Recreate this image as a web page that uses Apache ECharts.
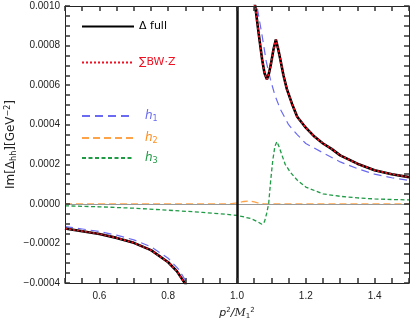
<!DOCTYPE html>
<html>
<head>
<meta charset="utf-8">
<script src="https://cdn.jsdelivr.net/npm/echarts@6/dist/echarts.min.js"></script>
<style>
  html, body { margin: 0; padding: 0; background: #fff; }
  #chart { width: 411px; height: 322px; }
</style>
</head>
<body>
<div id="chart"></div>
<script>
// x = p^2 / M1^2, y = Im[Delta_hh] in GeV^-2 (null breaks the line at the pole)
var fullX = [0.5, 0.55, 0.6, 0.65, 0.7, 0.75, 0.8, 0.825, 0.85, 0.87, 0.95,
  1.045, 1.053, 1.063, 1.073, 1.08, 1.087, 1.093, 1.099, 1.106, 1.113, 1.12, 1.126, 1.135, 1.145,
  1.16, 1.175, 1.2, 1.225, 1.25, 1.275, 1.3, 1.35, 1.4, 1.45, 1.5];
var fullY = [-0.000125, -0.000138, -0.000152, -0.000172, -0.000197, -0.000234, -0.000295, -0.00034, -0.000405, -0.00048, null,
  0.00105, 0.001, 0.00086, 0.00073, 0.00066, 0.00063, 0.00066, 0.00071, 0.00078, 0.00083, 0.00078, 0.00073, 0.00065, 0.00058,
  0.000505, 0.00044, 0.000385, 0.00034, 0.000305, 0.000278, 0.000245, 0.000203, 0.00017, 0.00015, 0.000135];

var h1X = [0.5, 0.55, 0.6, 0.65, 0.7, 0.75, 0.8, 0.83, 0.855, 0.875, 0.95,
  1.05, 1.058, 1.073, 1.085, 1.097, 1.11, 1.126, 1.15, 1.175, 1.2, 1.25, 1.3, 1.35, 1.4, 1.45, 1.5];
var h1Y = [-0.000115, -0.000127, -0.00014, -0.000158, -0.000182, -0.000217, -0.000275, -0.00033, -0.0004, -0.00048, null,
  0.00105, 0.001, 0.00085, 0.00072, 0.00063, 0.00055, 0.000478, 0.0004, 0.00035, 0.000305, 0.000258, 0.000212, 0.000178, 0.00015, 0.000132, 0.000118];

var h2X = [0.5, 0.98, 1.0, 1.02, 1.035, 1.05, 1.065, 1.08, 1.5];
var h2Y = [0, 0, 0.000005, 0.000012, 0.000015, 0.00001, 0.000003, 0, 0];

var h3X = [0.5, 0.6, 0.7, 0.8, 0.9, 0.95, 1.0, 1.04, 1.06, 1.072, 1.08, 1.086, 1.092, 1.098, 1.104, 1.11, 1.116,
  1.122, 1.13, 1.14, 1.155, 1.175, 1.2, 1.25, 1.3, 1.35, 1.4, 1.45, 1.5];
var h3Y = [-0.00001, -0.000015, -0.000022, -0.000032, -0.000043, -0.00005, -0.000058, -0.000074, -0.00009, -0.000103, -0.00009, -0.00005, 0, 0.00012, 0.00022, 0.00029, 0.000315,
  0.00029, 0.00025, 0.0002, 0.00016, 0.00012, 0.000085, 0.00005, 0.000038, 0.00003, 0.000025, 0.000022, 0.00002];

var xTickLabels = ['0.6', '0.8', '1.0', '1.2', '1.4'];

function pairs(xs, ys) {
  return xs.map(function (x, i) { return [x, ys[i]]; });
}

// true when v sits on a multiple of step (ticks are denser than labels)
function onStep(v, step) {
  var r = v / step;
  return Math.abs(r - Math.round(r)) < 1e-6;
}

var blue = '#6a6af2';
var orange = '#ff8c1a';
var green = '#1f9a45';
var red = '#ee1122';

var chart = echarts.init(document.getElementById('chart'));

function frameAxis(pos, range, extra) {
  return Object.assign({
    type: 'value', position: pos, z: 10,
    axisLine: { show: true, onZero: false, lineStyle: { color: '#222', width: 1 } },
    axisTick: { show: true, inside: true, length: 5, lineStyle: { color: '#333', width: 1.5 } },
    splitLine: { show: false },
    axisLabel: { show: false }
  }, range, extra);
}

var xRange = { min: 0.5, max: 1.5, interval: 0.05 };
var yRange = { min: -0.0004, max: 0.001, interval: 0.00005 };

function legendBox(name, top, textColor, padLeft) {
  return {
    data: [name],
    left: 81,
    top: top,
    orient: 'vertical',
    itemWidth: 52,
    itemHeight: 10,
    padding: 0,
    selectedMode: false,
    itemStyle: { opacity: 0 },
    textStyle: {
      color: textColor,
      fontFamily: 'DejaVu Sans',
      fontSize: 11,
      padding: [0, 0, 0, padLeft],
      rich: {
        i: { fontStyle: 'italic', fontSize: 12, color: textColor, fontFamily: 'DejaVu Sans' },
        s: { fontSize: 8, color: textColor, verticalAlign: 'bottom', padding: [6, 0, 0, 0], fontFamily: 'DejaVu Sans' }
      }
    },
    formatter: function (n) {
      if (n.charAt(0) === 'h') return '{i|h}{s|' + n.charAt(1) + '}';
      return n;
    }
  };
}

var option = {
  animation: false,
  backgroundColor: '#fff',
  grid: { left: 65, right: 2, top: 6, bottom: 39, outerBoundsMode: 'none', containLabel: false },
  legend: [
    legendBox('Δ full', 21, '#000', 0),
    legendBox('∑BW·Z', 57, red, 0),
    legendBox('h1', 110, blue, 6),
    legendBox('h2', 132, orange, 6),
    legendBox('h3', 152, green, 6)
  ],
  xAxis: [
    frameAxis('bottom', xRange, {
      axisLabel: {
        show: true, color: '#222', fontSize: 10, fontFamily: 'Liberation Sans', margin: 8,
        formatter: function (v) {
          if (!onStep(v, 0.1)) return '';
          var s = v.toFixed(1);
          return xTickLabels.indexOf(s) >= 0 ? s : '';
        }
      },
      name: '{i|p}{sup|2}{n|/}{m|M}{sub|1}{sup|2}',
      nameLocation: 'middle',
      nameGap: 24,
      nameMoveOverlap: false,
      nameTextStyle: {
        rich: {
          i: { fontStyle: 'italic', fontSize: 11, color: '#222', fontFamily: 'DejaVu Sans' },
          n: { fontSize: 11, color: '#222', fontFamily: 'DejaVu Sans', fontStyle: 'italic' },
          m: { fontSize: 11, color: '#222', fontFamily: 'DejaVu Serif', fontStyle: 'italic' },
          sub: { fontSize: 7, color: '#222', verticalAlign: 'bottom', padding: [6, 0, 0, 0], fontFamily: 'DejaVu Sans' },
          sup: { fontSize: 7, color: '#222', verticalAlign: 'top', padding: [0, 0, 6, 0], fontFamily: 'DejaVu Sans' }
        }
      }
    }),
    frameAxis('top', xRange, {})
  ],
  yAxis: [
    frameAxis('left', yRange, {
      axisLabel: {
        show: true, color: '#222', fontSize: 10, fontFamily: 'Liberation Sans', margin: 5,
        formatter: function (v) {
          if (!onStep(v, 0.0002)) return '';
          return v.toFixed(4).replace('-', '\u2212');
        }
      },
      name: '{n|Im[Δ}{sub|hh}{n|][GeV}{sup|\u22122}{n|]}',
      nameLocation: 'middle',
      nameGap: 47,
      nameRotate: 90,
      nameMoveOverlap: false,
      nameTextStyle: {
        rich: {
          n: { fontSize: 12, color: '#222', fontFamily: 'DejaVu Sans' },
          sub: { fontSize: 8, color: '#222', verticalAlign: 'bottom', padding: [6, 0, 0, 0], fontFamily: 'DejaVu Sans' },
          sup: { fontSize: 8, color: '#222', verticalAlign: 'top', padding: [0, 0, 6, 0], fontFamily: 'DejaVu Sans' }
        }
      }
    }),
    frameAxis('right', yRange, {})
  ],
  series: [
    {
      name: 'h2', type: 'line', symbol: 'none', clip: true, z: 2,
      data: pairs(h2X, h2Y),
      lineStyle: { color: orange, width: 1.3, type: [7, 4], opacity: 0.8 },
      itemStyle: { color: orange },
      markLine: {
        silent: true, symbol: 'none', label: { show: false },
        lineStyle: { color: '#999', width: 1, type: 'solid' },
        data: [{ yAxis: 0 }]
      }
    },
    {
      name: 'h3', type: 'line', symbol: 'none', clip: true, z: 3,
      data: pairs(h3X, h3Y),
      lineStyle: { color: green, width: 1.3, type: [4, 2.5] },
      itemStyle: { color: green }
    },
    {
      name: 'h1', type: 'line', symbol: 'none', clip: true, z: 3,
      data: pairs(h1X, h1Y),
      lineStyle: { color: blue, width: 1.2, type: [8, 5] },
      itemStyle: { color: blue }
    },
    {
      name: 'Δ full', type: 'line', symbol: 'none', clip: true, z: 4,
      data: pairs(fullX, fullY),
      lineStyle: { color: '#000', width: 2.6 },
      itemStyle: { color: '#000' },
      markLine: {
        silent: true, symbol: 'none', label: { show: false },
        lineStyle: { color: '#111', width: 2.5, type: 'solid' },
        data: [{ xAxis: 1.0 }]
      }
    },
    {
      name: '∑BW·Z', type: 'line', symbol: 'none', clip: true, z: 5,
      data: pairs(fullX, fullY),
      lineStyle: { color: red, width: 1.8, type: [2, 2] },
      itemStyle: { color: red }
    }
  ]
};

chart.setOption(option);
</script>
</body>
</html>
